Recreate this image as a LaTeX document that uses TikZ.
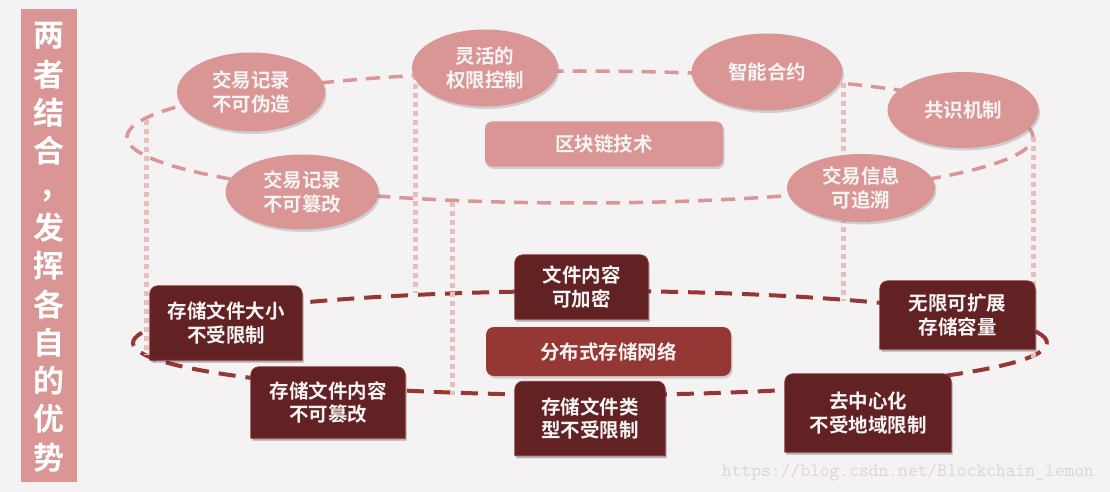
\documentclass[tikz,border=0pt]{standalone}
\usepackage{fontspec}
\newfontfamily\cjk{Noto Sans CJK SC}[BoldFont={Noto Sans CJK SC Bold}]
\usetikzlibrary{shapes.geometric,shadows}
\definecolor{bgc}{HTML}{F4F2F3}
\definecolor{pinkc}{HTML}{D99694}
\definecolor{dotc}{HTML}{E8BDBC}
\definecolor{darkc}{HTML}{622223}
\definecolor{midc}{HTML}{953735}
\definecolor{edgec}{HTML}{8E3533}
\definecolor{txtc}{HTML}{F6F4F4}
\definecolor{wmc}{HTML}{DAD6D8}
\pgfdeclarelayer{bg}
\pgfdeclarelayer{back}
\pgfdeclarelayer{mid}
\pgfsetlayers{bg,back,mid,main}
\tikzset{
  nodefont/.style={font=\cjk\bfseries\fontsize{19.5}{23.5}\selectfont},
  oval/.style={ellipse, fill=pinkc, text=txtc, nodefont, align=center, inner sep=0pt,
    drop shadow={opacity=0.3, shadow xshift=1.5pt, shadow yshift=-2.5pt}},
  prect/.style={rectangle, rounded corners=7pt, fill=pinkc, text=txtc, nodefont, align=center, inner sep=0pt,
    drop shadow={opacity=0.3, shadow xshift=1.5pt, shadow yshift=-2.5pt}},
  nrect/.style={rectangle, rounded corners=8pt, fill=midc, text=txtc, nodefont, align=center, inner sep=0pt,
    drop shadow={opacity=0.3, shadow xshift=1.5pt, shadow yshift=-2.5pt}},
  dbox/.style={rectangle, text=txtc, nodefont, align=center, inner sep=0pt},
  bchar/.style={text=white, font=\cjk\bfseries\fontsize{31}{31}\selectfont, inner sep=0pt},
  topring/.style={pinkc, line width=3.5pt, dash pattern=on 14pt off 9pt},
  botring/.style={midc, line width=4pt, dash pattern=on 17pt off 10pt},
  pillar/.style={dotc, line width=5pt, dash pattern=on 5pt off 4pt},
}
\begin{document}
\begin{tikzpicture}[x=1pt,y=-1pt]
\begin{pgfonlayer}{bg}
  \fill[bgc] (0,0) rectangle (1110,492);
\end{pgfonlayer}
\useasboundingbox (0,0) rectangle (1110,492);

% left banner
\node[fill=pinkc, minimum width=56, minimum height=473, anchor=north west, inner sep=0pt] (banner) at (21,9) {};
\foreach \c/\i in {两/0,者/1,结/2,合/3,发/5,挥/6,各/7,自/8,的/9,优/10,势/11}
  \node[bchar] (b\i) at (49,36+38.3*\i) {\c};
\node[bchar] (b4) at (48,196) {,};

% rings and pillars
\begin{pgfonlayer}{back}
  \draw[topring] (580,137) ellipse [x radius=453pt, y radius=66pt];
  \draw[botring] (590,343) ellipse [x radius=457pt, y radius=52pt];
  \coordinate (p1a) at (146,120); \coordinate (p1b) at (146,355);
  \coordinate (p2a) at (415,75);  \coordinate (p2b) at (415,293);
  \coordinate (p3a) at (452,202); \coordinate (p3b) at (452,395);
  \coordinate (p4a) at (843,83);  \coordinate (p4b) at (843,301);
  \coordinate (p5a) at (1033,137); \coordinate (p5b) at (1033,358);
  \foreach \p in {p1,p2,p3,p4,p5}
    \draw[pillar] (\p a) -- (\p b);
\end{pgfonlayer}

% blockchain layer
\node[oval, minimum width=148, minimum height=79] (t1) at (251,92) {交易记录\\不可伪造};
\node[oval, minimum width=146, minimum height=77] (t2) at (485,68) {灵活的\\权限控制};
\node[oval, minimum width=151, minimum height=77] (t3) at (767,72) {智能合约};
\node[oval, minimum width=151, minimum height=76] (t4) at (963,110) {共识机制};
\node[oval, minimum width=153, minimum height=75] (t5) at (302,192) {交易记录\\不可篡改};
\node[oval, minimum width=148, minimum height=68] (t6) at (861,188) {交易信息\\可追溯};
\node[prect, minimum width=238, minimum height=45] (bc) at (604,144) {区块链技术};

% storage layer
\node[dbox, minimum width=152, minimum height=74] (d1) at (226,323) {存储文件大小\\不受限制};
\node[dbox, minimum width=133, minimum height=64] (d2) at (581.5,287) {文件内容\\可加密};
\node[dbox, minimum width=154, minimum height=71] (d3) at (328,402.5) {存储文件内容\\不可篡改};
\node[dbox, minimum width=150, minimum height=74] (d4) at (590,418.5) {存储文件类\\型不受限制};
\node[dbox, minimum width=166, minimum height=78] (d5) at (868,413) {去中心化\\不受地域限制};
\node[dbox, minimum width=155, minimum height=68] (d6) at (957.5,315) {无限可扩展\\存储容量};
\node[nrect, minimum width=245, minimum height=49] (net) at (608.5,351.5) {分布式存储网络};

\begin{pgfonlayer}{mid}
  \foreach \n in {d1,d2,d3,d4,d5,d6} {
    \fill[black, opacity=0.28]
      ([shift={(1.5pt,-2.5pt)}]\n.east) -- ([shift={(1.5pt,-2.5pt)}]\n.south east)
      -- ([shift={(1.5pt,-2.5pt)}]\n.south west) -- ([shift={(1.5pt,-2.5pt)}]\n.west)
      [rounded corners=8pt] -- ([shift={(1.5pt,-2.5pt)}]\n.north west)
      -- ([shift={(1.5pt,-2.5pt)}]\n.north east) -- cycle;
    \filldraw[fill=darkc, draw=edgec, line width=0.8pt]
      (\n.east) -- (\n.south east) -- (\n.south west) -- (\n.west)
      [rounded corners=8pt] -- (\n.north west) -- (\n.north east) -- cycle;
  }
\end{pgfonlayer}

% watermark
\node[text=wmc, font=\ttfamily\fontsize{19}{19}\selectfont, inner sep=0pt] (wm) at (908,472) {https://blog.csdn.net/Blockchain\_lemon};
\end{tikzpicture}
\end{document}
